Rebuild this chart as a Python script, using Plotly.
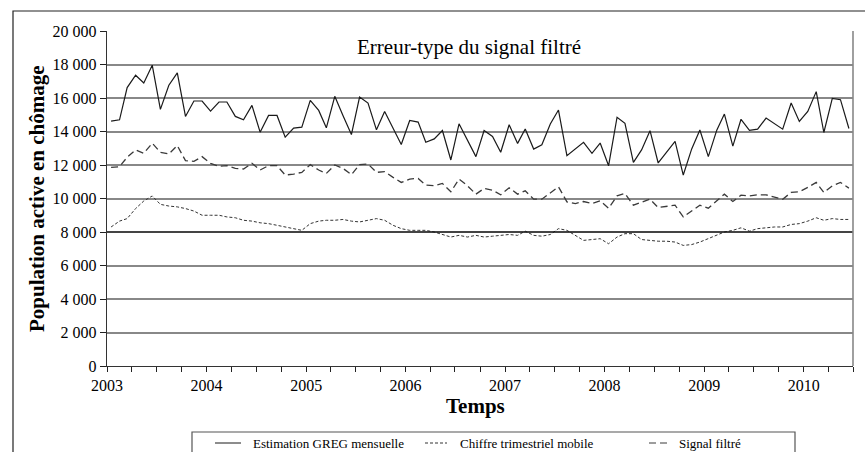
import plotly.graph_objects as go
import pandas as pd

# ---- data ----
start_month = "2003-01-01"
n_months = 90

greg_mensuelle = [14620, 14700, 16620, 17360, 16900, 17960, 15320, 16760, 17500, 14900,
                  15820, 15820, 15220, 15760, 15760, 14900, 14700, 15560, 13960, 14960,
                  14960, 13660, 14200, 14260, 15860, 15260, 14220, 16100, 14960, 13820,
                  16060, 15700, 14100, 15200, 14200, 13220, 14660, 14560, 13360, 13560,
                  14060, 12300, 14460, 13460, 12500, 14060, 13700, 12760, 14400, 13290,
                  14150, 12950, 13210, 14450, 15280, 12560, 12960, 13350, 12700, 13310,
                  11960, 14850, 14490, 12160, 12900, 14050, 12120, 12760, 13410, 11400,
                  12960, 14090, 12500, 14080, 15040, 13130, 14730, 14070, 14140, 14800,
                  14440, 14140, 15700, 14600, 15200, 16380, 13940, 15980, 15900, 14180]

trimestriel_mobile = [8300, 8650, 8800, 9400, 9850, 10150, 9650, 9550, 9500, 9400,
                      9250, 9000, 9000, 9000, 8900, 8850, 8700, 8650, 8550, 8500,
                      8400, 8300, 8200, 8100, 8500, 8650, 8700, 8700, 8750, 8650,
                      8600, 8700, 8800, 8700, 8400, 8200, 8100, 8100, 8100, 8000,
                      7850, 7700, 7800, 7700, 7800, 7700, 7750, 7800, 7850, 7800,
                      8050, 7800, 7750, 7850, 8200, 8100, 7800, 7500, 7550, 7600,
                      7300, 7700, 7900, 7900, 7550, 7500, 7450, 7450, 7400, 7200,
                      7250, 7400, 7600, 7800, 8000, 8100, 8250, 8050, 8200, 8250,
                      8300, 8300, 8450, 8500, 8650, 8850, 8700, 8800, 8750, 8750]

signal_filtre = [11860, 11900, 12460, 12900, 12700, 13300, 12760, 12660, 13160, 12260,
                 12220, 12500, 12100, 11920, 11960, 11800, 11760, 12100, 11700, 11960,
                 11960, 11400, 11460, 11560, 12020, 11700, 11500, 12000, 11800, 11420,
                 12020, 12060, 11560, 11600, 11260, 10960, 11160, 11200, 10800, 10760,
                 10900, 10400, 11160, 10760, 10260, 10600, 10500, 10220, 10640, 10260,
                 10460, 9960, 9960, 10360, 10700, 9800, 9700, 9820, 9700, 9860,
                 9420, 10160, 10300, 9600, 9760, 9960, 9460, 9520, 9600, 8900,
                 9260, 9600, 9420, 9860, 10260, 9820, 10200, 10160, 10220, 10220,
                 10100, 9960, 10360, 10400, 10660, 10960, 10360, 10760, 10960, 10620]

series_names = ["Estimation GREG mensuelle", "Chiffre trimestriel mobile", "Signal filtré"]
title_text = "Erreur-type du signal filtré"
y_title = "Population active en chômage"
x_title = "Temps"

# ---- build ----
months = pd.date_range(start_month, periods=n_months, freq="MS") + pd.Timedelta(days=15)
quarters = pd.date_range(start_month, "2010-07-01", freq="QS")
tick_text = [str(d.year) if d.month == 1 else "" for d in quarters]

FONT = "Liberation Serif, Times New Roman, Times, serif"
W, H = 865, 452
ML, MR, MT, MB = 107, 12, 31, 86
PW, PH = W - ML - MR, H - MT - MB

def px(x):
    return (x - ML) / PW

def py(y):
    return (H - MB - y) / PH

styles = [
    dict(color="#1a1a1a", width=1.2, dash="solid"),
    dict(color="#333333", width=1.0, dash="3px,2px"),
    dict(color="#3a3a3a", width=1.3, dash="7px,4px"),
]

fig = go.Figure()
for name, vals, st in zip(series_names, [greg_mensuelle, trimestriel_mobile, signal_filtre], styles):
    fig.add_trace(go.Scatter(x=months, y=vals, mode="lines", name=name,
                             line=st, showlegend=False))

fig.update_layout(
    width=W, height=H,
    margin=dict(l=ML, r=MR, t=MT, b=MB),
    paper_bgcolor="white", plot_bgcolor="white",
    separators=", ",
    font=dict(family=FONT, size=13, color="black"),
    xaxis=dict(
        range=[pd.Timestamp("2003-01-01"), pd.Timestamp("2010-07-01")],
        tickmode="array", tickvals=quarters, ticktext=tick_text,
        ticks="outside", ticklen=5, tickcolor="#222", tickwidth=1,
        showgrid=False, showline=True, linecolor="#333", linewidth=1.4,
        zeroline=False,
        tickfont=dict(family=FONT, size=16, color="black"),
    ),
    yaxis=dict(
        range=[0, 20000], dtick=2000, tickformat=",d",
        ticks="outside", ticklen=6, tickcolor="#222",
        showgrid=True, gridcolor="#888888", gridwidth=1.6,
        showline=True, linecolor="#333", linewidth=1.4,
        zeroline=False,
        tickfont=dict(family=FONT, size=16, color="black"),
    ),
)

# black reference line at 8 000
fig.add_shape(type="line", xref="paper", yref="y", x0=0, x1=1, y0=8000, y1=8000,
              line=dict(color="black", width=1.2), layer="above")
# right border of plot in gray
fig.add_shape(type="line", xref="paper", yref="paper", x0=1, x1=1, y0=0, y1=1,
              line=dict(color="#888888", width=1.6))

# title inside plot area
fig.add_annotation(text=title_text, xref="paper", yref="paper", x=px(469), y=py(47),
                   showarrow=False, font=dict(family=FONT, size=21, color="black"),
                   xanchor="center", yanchor="middle")
# axis titles
fig.add_annotation(text="<b>%s</b>" % x_title, xref="paper", yref="paper", x=px(475), y=py(406),
                   showarrow=False, font=dict(family=FONT, size=21, color="black"),
                   xanchor="center", yanchor="middle")
fig.add_annotation(text="<b>%s</b>" % y_title, xref="paper", yref="paper", x=px(37), y=py(199),
                   showarrow=False, textangle=-90, font=dict(family=FONT, size=21, color="black"),
                   xanchor="center", yanchor="middle")

# outer chart border
fig.add_shape(type="rect", xref="paper", yref="paper",
              x0=px(13), x1=px(880), y0=py(11), y1=py(470),
              line=dict(color="#222", width=1.2))

# legend box (manual)
fig.add_shape(type="rect", xref="paper", yref="paper",
              x0=px(192), x1=px(795), y0=py(432), y1=py(470),
              line=dict(color="#555", width=1.2))
leg_y = 443
leg_items = [(215, 241, 251), (425, 447, 458), (649, 670, 677)]
for (lx0, lx1, tx), name, st in zip(leg_items, series_names, styles):
    fig.add_shape(type="line", xref="paper", yref="paper",
                  x0=px(lx0), x1=px(lx1), y0=py(leg_y), y1=py(leg_y),
                  line=dict(color=st["color"], width=1.0, dash=st["dash"]))
    fig.add_annotation(text=name, xref="paper", yref="paper", x=px(tx), y=py(leg_y),
                       showarrow=False, xanchor="left", yanchor="middle",
                       font=dict(family=FONT, size=13, color="black"))

fig.write_html("out.html")
